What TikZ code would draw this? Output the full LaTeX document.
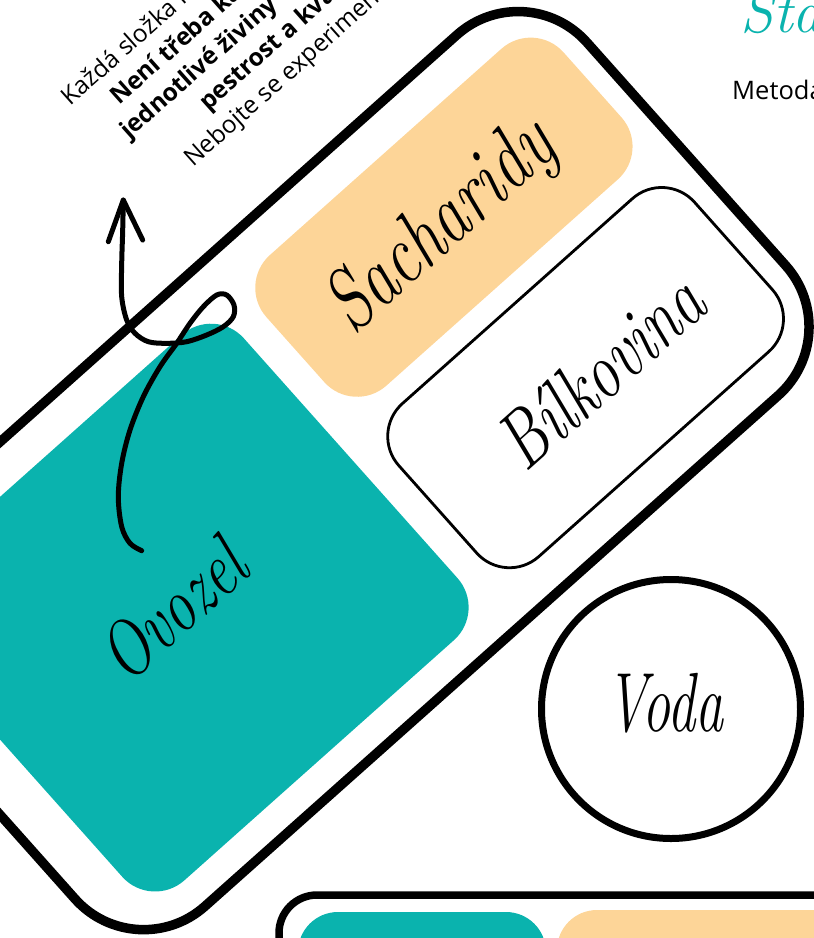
\documentclass[tikz,border=0pt]{standalone}
\usepackage{fontspec}
\setmainfont{Open Sans}
\definecolor{tealc}{HTML}{0AB3AE}
\definecolor{sand}{HTML}{FDD598}
\newcommand{\handfont}{\fontencoding{TU}\fontfamily{lmr}\fontseries{m}\fontshape{it}\selectfont}
\begin{document}
\begin{tikzpicture}[x=1pt,y=-1pt,
  tray/.style={draw=black, line width=9.5pt, rounded corners=92pt, inner sep=0pt, outer sep=0pt,
    minimum width=952pt, minimum height=483pt, rotate=41.7},
  compartment/.style={rounded corners=44pt, inner sep=0pt, outer sep=0pt, rotate=41.7},
  handtext/.style={inner sep=0pt, font=\handfont\fontsize{62}{62}\selectfont, rotate=41.7, yscale=1.3},
  note/.style={inner sep=0pt, anchor=base west, rotate=41.7, font=\fontsize{24.5}{29}\selectfont},
  notebold/.style={note, font=\fontsize{24.5}{29}\selectfont\bfseries},
  squiggle/.style={line width=5pt, line cap=round, line join=round}]
\useasboundingbox (0,0) rectangle (814,938);
\clip (0,0) rectangle (814,938);
% main tray
\node[tray] (tray) at (330.9,470.6) {};
\node[compartment, fill=tealc, minimum width=449pt, minimum height=409pt] (ovozel) at (183.1,607.6) {};
\node[compartment, fill=sand, minimum width=398pt, minimum height=175pt] (sacharidy) at (443.9,217.2) {};
\node[compartment, draw=black, line width=2.8pt, minimum width=396pt, minimum height=205pt] (bilkovina) at (585.6,377.6) {};
\node[handtext, font=\handfont\fontsize{66}{66}\selectfont] (lsach) at (442,228) {Sacharidy};
\node[handtext] (lbil) at (599.8,371) {Bílkovina};
\node[handtext, font=\handfont\fontsize{60}{60}\selectfont] (lovo) at (172,610) {Ovozel};
% water
\node[circle, draw=black, line width=7pt, minimum size=259pt, inner sep=0pt] (voda) at (671,709) {};
\node[inner sep=0pt, font=\handfont\fontsize{56}{56}\selectfont, yscale=1.5] (lvoda) at (665,703) {Voda};
% second tray (partly visible)
\node[anchor=north west, draw=black, line width=7.5pt, rounded corners=38pt, inner sep=0pt, outer sep=0pt,
  minimum width=900pt, minimum height=300pt] (tray2) at (279,895) {};
\node[anchor=north west, fill=tealc, rounded corners=40pt, inner sep=0pt, outer sep=0pt,
  minimum width=248pt, minimum height=200pt] (ovozel2) at (298,912) {};
\node[anchor=north west, fill=sand, rounded corners=40pt, inner sep=0pt, outer sep=0pt,
  minimum width=400pt, minimum height=200pt] (sach2) at (557,910) {};
% header
\node[anchor=base west, inner sep=0pt, text=tealc, font=\handfont\fontsize{60}{60}\selectfont] (title) at (740,32) {Standardní talíř};
\node[anchor=base west, inner sep=0pt, font=\fontsize{25.5}{30}\selectfont] (metoda) at (732,99) {Metoda talíře};
% rotated note
\node[note] (n1) at (70,107) {Každá složka na talíři má své místo.};
\node[notebold] (n2) at (119,106) {Není třeba každý den vážit};
\node[notebold] (n3) at (129,140) {jednotlivé živiny - důležitá je};
\node[notebold] (n4) at (208,112) {pestrost a kvalita.};
\node[note] (n5) at (193,168) {Nebojte se experimentovat!};
% hand-drawn arrow
\coordinate (arrowstart) at (141.7,550.7);
\coordinate (arrowtip) at (123.3,200);
\coordinate (armleft) at (108.3,241.7);
\coordinate (armright) at (142.7,240);
\draw[squiggle] plot[smooth, tension=0.55] coordinates {
  (arrowstart) (130,543.3) (121.7,526.7) (118.3,496.7) (121.7,463.3) (130,430) (143.3,396.7)
  (160,366.7) (176.7,343.3) (190,323.3) (203.3,306.7) (216.7,295) (226.7,295) (234,305)
  (233.3,316.7) (223.3,326.7) (206.7,335) (186.7,341.7) (166.7,343.3) (148.3,341.7)
  (135,333.3) (126.7,320) (121.7,296.7) (121.7,263.3) (122.7,230) (arrowtip)};
\draw[squiggle] (armleft) -- (arrowtip) -- (armright);
\end{tikzpicture}
\end{document}
